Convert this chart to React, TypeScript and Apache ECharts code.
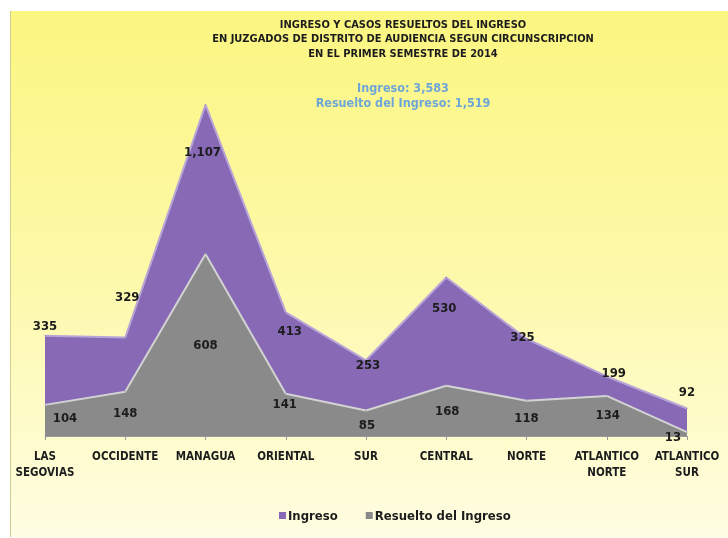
import React, { useEffect, useRef } from "react";
import * as echarts from "echarts";

const categories = [
  "LAS\nSEGOVIAS",
  "OCCIDENTE",
  "MANAGUA",
  "ORIENTAL",
  "SUR",
  "CENTRAL",
  "NORTE",
  "ATLANTICO\nNORTE",
  "ATLANTICO\nSUR",
];
const ingreso = [335, 329, 1107, 413, 253, 530, 325, 199, 92];
const resuelto = [104, 148, 608, 141, 85, 168, 118, 134, 13];
const totalIngreso = "3,583";
const totalResuelto = "1,519";

const titleLines = [
  "INGRESO Y CASOS RESUELTOS DEL INGRESO",
  "EN JUZGADOS DE DISTRITO DE AUDIENCIA SEGUN CIRCUNSCRIPCION",
  "EN EL PRIMER SEMESTRE DE 2014",
];

// label placement tweaks (pixels), mirroring the original layout
const ingresoLabelOffsets = [
  [0, 3], [2, -28], [-3, 60], [4, 32], [2, 18], [-2, 44], [-4, 11], [7, 10], [0, -3],
];
const resueltoLabelOffsets = [
  [20, 26], [0, 34], [0, 104], [-1, 23], [1, 27], [1, 38], [0, 30], [1, 32], [-14, 18],
];

const FONT = '"DejaVu Sans Condensed", "Liberation Sans", sans-serif';
const PURPLE = "#8769b6";
const GRAY = "#8a8a8a";
const DARK = "#1c1c1c";

const fmt = (v: number) => v.toLocaleString("en-US");

export default function App() {
  const ref = useRef<HTMLDivElement>(null);
  useEffect(() => {
    if (!ref.current) return;
    const chart = echarts.init(ref.current, undefined, { renderer: "svg" });
    const labelBase = {
      show: true,
      position: "top",
      distance: 5,
      color: DARK,
      fontFamily: FONT,
      fontWeight: "bold",
      fontSize: 13,
      lineHeight: 16,
      formatter: (p: any) => fmt(p.value),
    };
    chart.setOption({
      animation: false,
      backgroundColor: "transparent",
      graphic: [
        {
          type: "rect",
          z: -10,
          silent: true,
          shape: { x: 10, y: 11, width: 718, height: 526 },
          style: {
            fill: new echarts.graphic.LinearGradient(0, 0, 0, 1, [
              { offset: 0, color: "#fbf680" },
              { offset: 0.5, color: "#fdf9aa" },
              { offset: 1, color: "#fffde2" },
            ]),
          },
        },
        {
          type: "line",
          z: -9,
          silent: true,
          shape: { x1: 10.5, y1: 11, x2: 10.5, y2: 537 },
          style: { stroke: "#d2cd92", lineWidth: 1 },
        },
      ],
      title: [
        {
          text: titleLines.join("\n"),
          left: 403,
          textAlign: "center",
          top: 17,
          padding: 0,
          textStyle: {
            color: DARK,
            fontFamily: FONT,
            fontWeight: "bold",
            fontSize: 11,
            lineHeight: 14.5,
          },
        },
        {
          text: `Ingreso: ${totalIngreso}\nResuelto del Ingreso: ${totalResuelto}`,
          left: 403,
          textAlign: "center",
          top: 79.5,
          padding: 0,
          textStyle: {
            color: "#6ea6d8",
            fontFamily: FONT,
            fontWeight: "bold",
            fontSize: 12.5,
            lineHeight: 15,
          },
        },
      ],
      legend: {
        data: ["Ingreso", "Resuelto del Ingreso"],
        left: 274,
        top: 504,
        icon: "rect",
        itemWidth: 7,
        itemHeight: 7,
        itemGap: 28,
        textStyle: {
          color: DARK,
          fontFamily: FONT,
          fontWeight: "bold",
          fontSize: 13,
          padding: [0, 0, 0, -3],
        },
      },
      grid: { left: 45, right: 41, top: 77, bottom: 102, containLabel: false },
      xAxis: {
        type: "category",
        data: categories,
        boundaryGap: false,
        axisLine: { show: true, lineStyle: { color: "#9a9a9a", width: 1 } },
        axisTick: { show: true, alignWithLabel: true, length: 4, lineStyle: { color: "#9a9a9a" } },
        axisLabel: {
          color: DARK,
          fontFamily: FONT,
          fontWeight: "bold",
          fontSize: 11.5,
          lineHeight: 16,
          margin: 12,
          interval: 0,
        },
      },
      yAxis: { type: "value", min: 0, max: 1200, show: false, splitLine: { show: false } },
      series: [
        {
          name: "Ingreso",
          type: "line",
          data: ingreso.map((v, i) => ({
            value: v,
            label: { offset: ingresoLabelOffsets[i] },
          })),
          symbol: "circle",
          symbolSize: 1,
          itemStyle: { color: PURPLE },
          lineStyle: { color: "#b8a5d8", width: 2 },
          areaStyle: { color: PURPLE, opacity: 1 },
          label: labelBase,
          z: 2,
        },
        {
          name: "Resuelto del Ingreso",
          type: "line",
          data: resuelto.map((v, i) => ({
            value: v,
            label: { offset: resueltoLabelOffsets[i] },
          })),
          symbol: "circle",
          symbolSize: 1,
          itemStyle: { color: GRAY },
          lineStyle: { color: "#d3d3d3", width: 2 },
          areaStyle: { color: GRAY, opacity: 1 },
          label: labelBase,
          z: 3,
        },
      ],
    });
    return () => chart.dispose();
  }, []);
  return (
    <div
      ref={ref}
      style={{ position: "fixed", left: 0, top: 0, width: 728, height: 538 }}
    />
  );
}
